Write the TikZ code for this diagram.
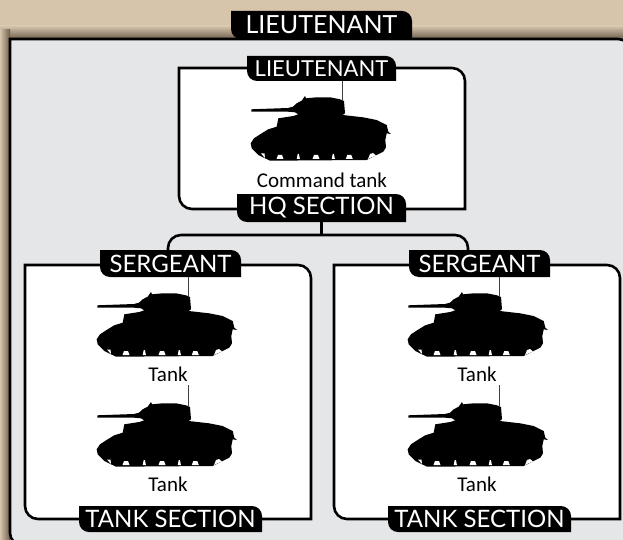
\documentclass[tikz,border=0pt]{standalone}
\usepackage{fontspec}
\setmainfont{Carlito}
\newfontfamily\tagfont{Lato}
\usetikzlibrary{positioning, calc}

\definecolor{paper}{HTML}{D6C4AB}
\definecolor{papershade}{HTML}{6E5F4E}
\definecolor{panelgrey}{HTML}{E5E6E8}

\tikzset{
    boxline/.style={draw=black, line width=2.6pt},
    linkline/.style={draw=black, line width=2.6pt, rounded corners=13pt},
    aerial/.style={draw=black!75, line width=0.6pt},
    tagtext/.style={text=white, inner sep=0pt, font=\tagfont\fontsize{#1}{#1}\selectfont},
    tanklabel/.style={inner sep=0pt, font=\fontsize{21}{21}\selectfont},
    tankshape/.pic={
        % hull and turret, traced in pixels
        \fill[black] (21.3,39.3) -- (58,38) -- (63,36.7) -- (66.7,33.3) -- (71.7,30.7) -- (75,26)
            -- (76,28.3) -- (86.7,27.3) -- (100,27.3) -- (110,29.3) -- (114,31) -- (115,43.3)
            -- (112.7,45) -- (133,47.3) -- (146.7,50) -- (156.7,55) -- (158.3,61.7) -- (161,64)
            -- (156.7,63.3) -- (155.3,70) -- (156,77.3) -- (153.3,81.7) -- (136.7,90) -- (40,90.7)
            -- (28.3,85) -- (21.7,78.3) -- (20.7,73.3) -- (24,68.3) -- (31.7,63.3) -- (38.3,59.3)
            -- (46.7,56.7) -- (48.3,48.3) -- (63.3,46) -- (68.3,44.3) -- (65,42.3) -- (58,41.7)
            -- (21.3,41.7) -- cycle;
        % road wheels
        \foreach \tx in {50,86,119.3}
            \fill[white] (\tx-3.5,89) -- (\tx-2,85) -- (\tx+2,85) -- (\tx+3.5,89) -- cycle;
        \foreach \tx in {68.3,103.3}
            \fill[white] (\tx-1.6,89) -- (\tx-0.6,84) -- (\tx+0.6,84) -- (\tx+1.6,89) -- cycle;
        \fill[white] (31,83.5) -- (34.5,83.5) -- (35,88) -- cycle;
        \fill[white] (138,89) -- (140,84) -- (143,83) -- (146,85.5) -- (141,87.5) -- cycle;
        \coordinate (-top) at (112,31);
    }
}

% box with two rounded corners: style, radius, left, top, right, bottom
\newcommand{\cutbox}[6]{
    \path[#1] (#3,#4) -- (#5-#2,#4) to[out=0,in=90] (#5,#4+#2) -- (#5,#6)
        -- (#3+#2,#6) to[out=180,in=-90] (#3,#6-#2) -- cycle;
}
% black tag: name, size, left, top, right, bottom, text
\newcommand{\tagbox}[7]{
    \cutbox{fill=black}{10}{#3}{#4}{#5}{#6}
    \node[tagtext=#2] (#1) at ({(#3+#5)/2},{(#4+#6)/2}) {#7};
    \coordinate (#1-south) at ({(#3+#5)/2},#6);
}

\begin{document}
\begin{tikzpicture}[x=1pt, y=-1pt]
    \useasboundingbox (0,0) rectangle (623,540);
    \clip (0,0) rectangle (623,540);

    % Paper and the shadow of the panel
    \fill[paper] (0,0) rectangle (623,540);
    \shade[top color=paper, bottom color=papershade] (0,26) rectangle (623,39);
    \shade[left color=paper, right color=papershade] (0,30) rectangle (10,540);

    % Panel
    \cutbox{fill=panelgrey, boxline}{12}{10}{39}{630}{545}

    % Section boxes
    \cutbox{fill=white, boxline}{13}{179}{68}{465}{209}
    \cutbox{fill=white, boxline}{13}{25}{265}{311}{519}
    \cutbox{fill=white, boxline}{13}{334}{265}{620}{519}

    % Tags
    \tagbox{ltmain}{25}{231}{11}{412}{39}{LIEUTENANT}
    \tagbox{ltcmd}{22}{247}{56}{396}{81}{LIEUTENANT}
    \tagbox{hqsec}{24}{237}{194}{406}{222}{HQ SECTION}
    \tagbox{sgtleft}{24}{100}{250}{241}{277}{SERGEANT}
    \tagbox{sgtright}{24}{409}{250}{550}{277}{SERGEANT}
    \tagbox{secleft}{24}{79}{506}{262}{532}{TANK SECTION}
    \tagbox{secright}{24}{388}{506}{571}{532}{TANK SECTION}

    % Connectors
    \coordinate (forkmid) at (322,235);
    \coordinate (forkleft) at (168,251);
    \coordinate (forkright) at (468,251);
    \draw[linkline] (forkleft) |- (forkmid) -| (forkright);
    \draw[boxline] (hqsec-south) -- (hqsec-south |- forkmid);

    % Tanks
    \pic (tankhq) at (230,70) {tankshape};
    \pic (tankla) at (76,266) {tankshape};
    \pic (tanklb) at (76,376) {tankshape};
    \pic (tankra) at (387,266) {tankshape};
    \pic (tankrb) at (387,376) {tankshape};

    \draw[aerial] (ltcmd-south -| tankhq-top) -- (tankhq-top);
    \draw[aerial] (sgtleft-south -| tankla-top) -- (tankla-top);
    \draw[aerial] (sgtright-south -| tankra-top) -- (tankra-top);
    \coordinate (aerialla) at ($(tanklb-top)+(0,-22)$);
    \coordinate (aerialra) at ($(tankrb-top)+(0,-22)$);
    \draw[aerial] (aerialla) -- (tanklb-top);
    \draw[aerial] (aerialra) -- (tankrb-top);

    % Tank names
    \node[tanklabel] (namehq) at (322,180) {Command tank};
    \node[tanklabel] (namela) at (168,374) {Tank};
    \node[tanklabel] (namelb) at (168,484) {Tank};
    \node[tanklabel] (namera) at (477,374) {Tank};
    \node[tanklabel] (namerb) at (477,484) {Tank};
\end{tikzpicture}
\end{document}
